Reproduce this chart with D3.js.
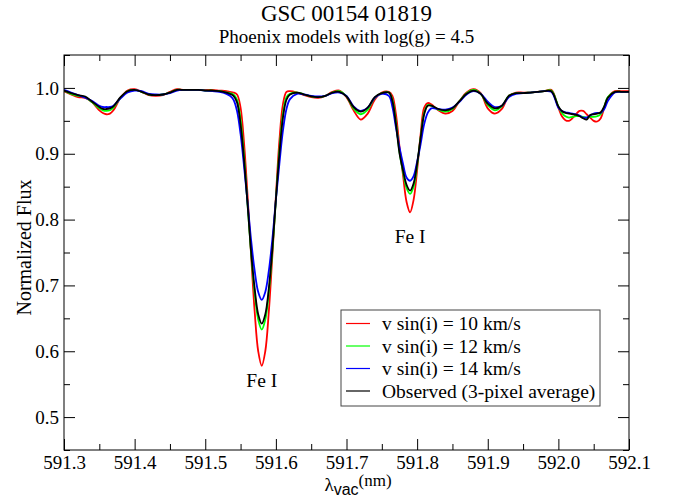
<!DOCTYPE html>
<html>
<head>
<meta charset="utf-8">
<script src="https://cdnjs.cloudflare.com/ajax/libs/d3/7.8.5/d3.min.js"></script>
<style>
  body { margin: 0; background: #fff; }
  svg { display: block; font-family: "Liberation Serif", "Times New Roman", serif; }
</style>
</head>
<body>
<svg id="chart" width="674" height="497"></svg>
<script>
// Wavelength grid (nm), shared by all curves
const wavelength = [
  591.30, 591.31, 591.32, 591.33, 591.34, 591.35, 591.355, 591.36, 591.365, 591.37,
  591.38, 591.39, 591.40, 591.41, 591.42, 591.43, 591.44, 591.45, 591.46, 591.47,
  591.48, 591.49, 591.50, 591.51, 591.52, 591.53, 591.535, 591.54, 591.545, 591.55,
  591.555, 591.56, 591.565, 591.57, 591.575, 591.58, 591.585, 591.59, 591.595, 591.60,
  591.605, 591.61, 591.615, 591.62, 591.63, 591.64, 591.65, 591.66, 591.67, 591.68,
  591.69, 591.70, 591.71, 591.72, 591.73, 591.74, 591.75, 591.76, 591.765, 591.77,
  591.775, 591.78, 591.785, 591.79, 591.795, 591.80, 591.805, 591.81, 591.815, 591.82,
  591.83, 591.84, 591.85, 591.86, 591.87, 591.88, 591.89, 591.90, 591.91, 591.92,
  591.93, 591.94, 591.95, 591.96, 591.97, 591.98, 591.99, 592.00, 592.005, 592.01,
  592.015, 592.02, 592.025, 592.03, 592.035, 592.04, 592.045, 592.05, 592.055, 592.06,
  592.065, 592.07, 592.08, 592.09, 592.10
];

// v sin(i) = 10 km/s
const fluxV10 = [
  0.995, 0.990, 0.986, 0.985, 0.978, 0.966, 0.962, 0.960, 0.961, 0.966,
  0.985, 0.996, 0.998, 0.994, 0.989, 0.988, 0.989, 0.994, 0.998, 0.997,
  0.997, 0.997, 0.997, 0.997, 0.996, 0.995, 0.994, 0.993, 0.990, 0.970,
  0.915, 0.835, 0.745, 0.660, 0.600, 0.578, 0.600, 0.660, 0.745, 0.835,
  0.920, 0.975, 0.994, 0.995, 0.993, 0.989, 0.986, 0.985, 0.988, 0.994,
  0.996, 0.986, 0.966, 0.952, 0.961, 0.982, 0.993, 0.994, 0.988, 0.960,
  0.911, 0.868, 0.827, 0.811, 0.830, 0.875, 0.930, 0.970, 0.977, 0.975,
  0.966, 0.961, 0.965, 0.980, 0.993, 0.998, 0.992, 0.969, 0.961, 0.968,
  0.988, 0.993, 0.993, 0.993, 0.994, 0.995, 0.997, 0.970, 0.957, 0.951,
  0.950, 0.954, 0.960, 0.965, 0.965, 0.960, 0.955, 0.950, 0.949, 0.954,
  0.970, 0.985, 0.995, 0.995, 0.995
];

// v sin(i) = 12 km/s
const fluxV12 = [
  0.996, 0.991, 0.988, 0.986, 0.978, 0.969, 0.966, 0.965, 0.966, 0.970,
  0.985, 0.995, 0.997, 0.994, 0.990, 0.989, 0.990, 0.993, 0.997, 0.997,
  0.997, 0.997, 0.996, 0.996, 0.995, 0.993, 0.992, 0.990, 0.982, 0.952,
  0.895, 0.822, 0.748, 0.688, 0.648, 0.633, 0.648, 0.690, 0.752, 0.830,
  0.905, 0.960, 0.986, 0.991, 0.993, 0.990, 0.987, 0.986, 0.988, 0.993,
  0.995, 0.987, 0.969, 0.960, 0.967, 0.985, 0.992, 0.993, 0.982, 0.948,
  0.903, 0.872, 0.848, 0.839, 0.850, 0.882, 0.925, 0.962, 0.974, 0.973,
  0.967, 0.964, 0.968, 0.980, 0.992, 0.997, 0.991, 0.974, 0.966, 0.972,
  0.988, 0.992, 0.992, 0.993, 0.994, 0.995, 0.996, 0.972, 0.962, 0.957,
  0.955, 0.956, 0.957, 0.957, 0.956, 0.955, 0.956, 0.956, 0.957, 0.960,
  0.972, 0.986, 0.994, 0.994, 0.994
];

// v sin(i) = 14 km/s
const fluxV14 = [
  0.997, 0.993, 0.989, 0.985, 0.980, 0.973, 0.971, 0.971, 0.971, 0.973,
  0.984, 0.993, 0.996, 0.995, 0.991, 0.990, 0.990, 0.992, 0.996, 0.997,
  0.997, 0.997, 0.996, 0.995, 0.994, 0.991, 0.988, 0.982, 0.965, 0.930,
  0.880, 0.825, 0.768, 0.722, 0.690, 0.678, 0.690, 0.722, 0.770, 0.830,
  0.885, 0.935, 0.968, 0.983, 0.991, 0.990, 0.988, 0.987, 0.988, 0.992,
  0.993, 0.988, 0.972, 0.965, 0.970, 0.985, 0.991, 0.988, 0.971, 0.940,
  0.910, 0.885, 0.864, 0.859, 0.866, 0.888, 0.915, 0.945, 0.962, 0.969,
  0.968, 0.967, 0.970, 0.979, 0.990, 0.995, 0.991, 0.979, 0.971, 0.973,
  0.986, 0.991, 0.992, 0.993, 0.994, 0.995, 0.994, 0.970, 0.965, 0.963,
  0.962, 0.961, 0.960, 0.958, 0.955, 0.955, 0.958, 0.961, 0.962, 0.962,
  0.968, 0.980, 0.993, 0.994, 0.994
];

// Observed spectrum (3-pixel average)
const fluxObserved = [
  0.996, 0.992, 0.989, 0.987, 0.979, 0.971, 0.968, 0.968, 0.969, 0.972,
  0.986, 0.995, 0.997, 0.994, 0.990, 0.989, 0.990, 0.993, 0.997, 0.997,
  0.997, 0.997, 0.996, 0.996, 0.995, 0.993, 0.991, 0.988, 0.978, 0.945,
  0.890, 0.822, 0.750, 0.695, 0.656, 0.642, 0.656, 0.695, 0.755, 0.830,
  0.900, 0.955, 0.982, 0.990, 0.993, 0.990, 0.987, 0.986, 0.988, 0.993,
  0.994, 0.987, 0.971, 0.964, 0.970, 0.986, 0.992, 0.993, 0.980, 0.945,
  0.901, 0.875, 0.853, 0.844, 0.855, 0.885, 0.925, 0.960, 0.973, 0.973,
  0.968, 0.966, 0.969, 0.980, 0.991, 0.996, 0.991, 0.976, 0.969, 0.973,
  0.988, 0.992, 0.992, 0.993, 0.994, 0.995, 0.995, 0.972, 0.965, 0.962,
  0.961, 0.960, 0.959, 0.957, 0.954, 0.952, 0.959, 0.960, 0.961, 0.963,
  0.972, 0.985, 0.994, 0.994, 0.994
];

const seriesLabels = [
  'v sin(i) = 10 km/s',
  'v sin(i) = 12 km/s',
  'v sin(i) = 14 km/s',
  'Observed (3-pixel average)'
];

const xMajorTicks = [591.3, 591.4, 591.5, 591.6, 591.7, 591.8, 591.9, 592.0, 592.1];
const xMinorTicks = [591.35, 591.45, 591.55, 591.65, 591.75, 591.85, 591.95, 592.05];
const yMajorTicks = [0.5, 0.6, 0.7, 0.8, 0.9, 1.0];
const yMinorTicks = [0.45, 0.55, 0.65, 0.75, 0.85, 0.95, 1.05];

const lineAnnotations = [
  { text: 'Fe I', wl: 591.58, flux: 0.545 },
  { text: 'Fe I', wl: 591.79, flux: 0.764 }
];

const colors = ['#ff0000', '#00ff00', '#0000ff', '#000000'];

// Layout
const margin = { left: 64, right: 45, top: 55, bottom: 47 };
const width = 674, height = 497;
const plotW = width - margin.left - margin.right;
const plotH = height - margin.top - margin.bottom;

const svg = d3.select('#chart');

const x = d3.scaleLinear().domain([591.3, 592.1]).range([0, plotW]);
const y = d3.scaleLinear().domain([0.45, 1.05]).range([plotH, 0]);

const g = svg.append('g').attr('transform', `translate(${margin.left},${margin.top})`);

// Title
svg.append('text')
  .attr('x', margin.left + plotW / 2).attr('y', 21)
  .attr('text-anchor', 'middle')
  .style('font-size', '23px')
  .text('GSC 00154 01819');

svg.append('text')
  .attr('x', margin.left + plotW / 2).attr('y', 43)
  .attr('text-anchor', 'middle')
  .style('font-size', '19px')
  .text('Phoenix models with log(g) = 4.5');

// Curves
const series = [fluxV10, fluxV12, fluxV14, fluxObserved];
const line = d3.line()
  .x((d, i) => x(wavelength[i]))
  .y(d => y(d))
  .curve(d3.curveCatmullRom.alpha(0.5));

g.append('defs').append('clipPath').attr('id', 'plotclip')
  .append('rect').attr('width', plotW).attr('height', plotH);

const curves = g.append('g').attr('clip-path', 'url(#plotclip)');
series.forEach((vals, k) => {
  curves.append('path')
    .datum(vals)
    .attr('fill', 'none')
    .attr('stroke', colors[k])
    .attr('stroke-width', 1.8)
    .attr('stroke-linejoin', 'round')
    .attr('d', line);
});

// Axes: ticks point inward, mirrored on top/right
function styleAxis(sel) {
  sel.select('.domain').remove();
  sel.selectAll('.tick line').attr('stroke', '#000');
  sel.selectAll('.tick text')
    .style('font-family', '"Liberation Serif", "Times New Roman", serif')
    .style('font-size', '19px')
    .attr('fill', '#000');
}

const fmt = d3.format('.1f');

g.append('g').attr('transform', `translate(0,${plotH})`)
  .call(d3.axisBottom(x).tickValues(xMajorTicks).tickFormat(fmt).tickSizeInner(-11).tickSizeOuter(0).tickPadding(6))
  .call(styleAxis);
g.append('g').attr('transform', `translate(0,${plotH})`)
  .call(d3.axisBottom(x).tickValues(xMinorTicks).tickFormat('').tickSizeInner(-6).tickSizeOuter(0))
  .call(styleAxis);
g.append('g')
  .call(d3.axisTop(x).tickValues(xMajorTicks).tickFormat('').tickSizeInner(-11).tickSizeOuter(0))
  .call(styleAxis);
g.append('g')
  .call(d3.axisTop(x).tickValues(xMinorTicks).tickFormat('').tickSizeInner(-6).tickSizeOuter(0))
  .call(styleAxis);

g.append('g')
  .call(d3.axisLeft(y).tickValues(yMajorTicks).tickFormat(fmt).tickSizeInner(-11).tickSizeOuter(0).tickPadding(5))
  .call(styleAxis);
g.append('g')
  .call(d3.axisLeft(y).tickValues(yMinorTicks).tickFormat('').tickSizeInner(-6).tickSizeOuter(0))
  .call(styleAxis);
g.append('g').attr('transform', `translate(${plotW},0)`)
  .call(d3.axisRight(y).tickValues(yMajorTicks).tickFormat('').tickSizeInner(-11).tickSizeOuter(0))
  .call(styleAxis);
g.append('g').attr('transform', `translate(${plotW},0)`)
  .call(d3.axisRight(y).tickValues(yMinorTicks).tickFormat('').tickSizeInner(-6).tickSizeOuter(0))
  .call(styleAxis);

// Frame
g.append('rect')
  .attr('width', plotW).attr('height', plotH)
  .attr('fill', 'none').attr('stroke', '#000').attr('stroke-width', 1);

// Axis labels
svg.append('text')
  .attr('transform', `translate(31,${margin.top + plotH / 2 - 5}) rotate(-90)`)
  .attr('text-anchor', 'middle')
  .style('font-size', '20px')
  .text('Normalized Flux');

const xl = svg.append('text')
  .attr('x', 358).attr('y', 491)
  .attr('text-anchor', 'middle');
xl.append('tspan').style('font-size', '19px').text('λ');
xl.append('tspan').attr('dy', 4).style('font-size', '16px')
  .style('font-family', '"Liberation Sans", Arial, sans-serif').text('vac');
xl.append('tspan').attr('dy', -9).style('font-size', '17px').text('(nm)');

// Line annotations
g.selectAll('.anno')
  .data(lineAnnotations)
  .enter().append('text')
  .attr('class', 'anno')
  .attr('x', d => x(d.wl))
  .attr('y', d => y(d.flux))
  .attr('text-anchor', 'middle')
  .style('font-size', '19.5px')
  .text(d => d.text);

// Legend
const legend = svg.append('g').attr('transform', 'translate(341,310)');
legend.append('rect')
  .attr('width', 259).attr('height', 96)
  .attr('fill', '#fff').attr('stroke', '#444').attr('stroke-width', 1);

seriesLabels.forEach((label, k) => {
  const rowY = 13.5 + k * 22.5;
  legend.append('line')
    .attr('x1', 5).attr('x2', 29)
    .attr('y1', rowY).attr('y2', rowY)
    .attr('stroke', colors[k]).attr('stroke-width', 1.2);
  legend.append('text')
    .attr('x', 41).attr('y', rowY + 6.5)
    .style('font-size', '19.5px')
    .text(label);
});
</script>
</body>
</html>
